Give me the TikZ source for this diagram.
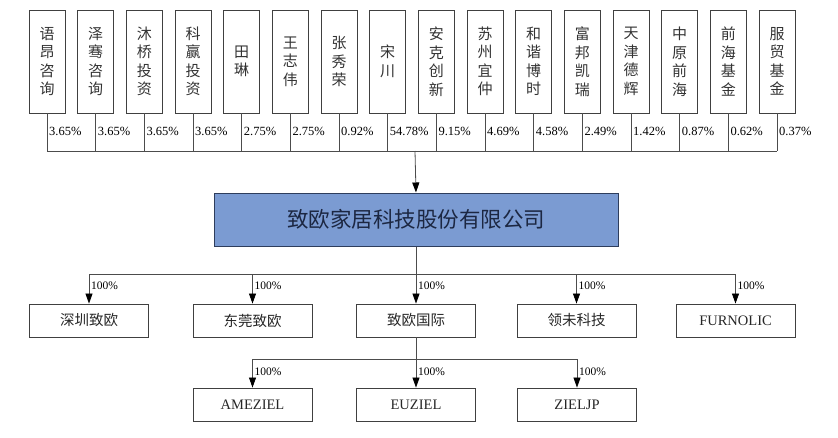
\documentclass[tikz,border=0pt]{standalone}
\usepackage{fontspec}
\setmainfont{Liberation Serif}
\newfontfamily\cjk{Noto Sans CJK SC}
\usetikzlibrary{arrows.meta}

\definecolor{mainblue}{HTML}{7B9BD2}
\definecolor{mainline}{HTML}{2E3D5C}
\definecolor{maintext}{HTML}{1C2742}

\tikzset{
  holder/.style={draw=black!75, line width=0.9pt, minimum width=36pt, minimum height=103pt,
    inner sep=0pt, align=center, text=black!80, font=\cjk\fontsize{15}{18.5}\selectfont},
  share/.style={anchor=west, inner sep=0pt, font=\fontsize{12.5}{12.5}\selectfont},
  firm/.style={draw=black!75, line width=0.9pt, minimum width=119pt, minimum height=33pt,
    inner sep=0pt, text=black!85, font=\fontsize{14.5}{14.5}\selectfont},
  own/.style={anchor=west, inner sep=0pt, font=\fontsize{11.5}{11.5}\selectfont},
  link/.style={draw=black!70, line width=0.8pt},
}

\begin{document}
\begin{tikzpicture}[x=1pt,y=-1pt,>={Triangle[length=10pt,width=7pt,color=black]}]
\useasboundingbox (0,0) rectangle (838,437);

% shareholders
\node[holder] (s1) at (47,61.5) {语\\昂\\咨\\询};
\node[holder] (s2) at (95.7,61.5) {泽\\骞\\咨\\询};
\node[holder] (s3) at (144.3,61.5) {沐\\桥\\投\\资};
\node[holder] (s4) at (193,61.5) {科\\赢\\投\\资};
\node[holder] (s5) at (241.7,61.5) {田\\琳};
\node[holder] (s6) at (290.3,61.5) {王\\志\\伟};
\node[holder] (s7) at (339,61.5) {张\\秀\\荣};
\node[holder] (s8) at (387.7,61.5) {宋\\川};
\node[holder] (s9) at (436.3,61.5) {安\\克\\创\\新};
\node[holder] (s10) at (485,61.5) {苏\\州\\宜\\仲};
\node[holder] (s11) at (533.7,61.5) {和\\谐\\博\\时};
\node[holder] (s12) at (582.3,61.5) {富\\邦\\凯\\瑞};
\node[holder] (s13) at (631,61.5) {天\\津\\德\\辉};
\node[holder] (s14) at (679.7,61.5) {中\\原\\前\\海};
\node[holder] (s15) at (728.3,61.5) {前\\海\\基\\金};
\node[holder] (s16) at (777,61.5) {服\\贸\\基\\金};

% shares
\node[share] (p1) at (49,131) {3.65\%};
\node[share] (p2) at (97.7,131) {3.65\%};
\node[share] (p3) at (146.3,131) {3.65\%};
\node[share] (p4) at (195,131) {3.65\%};
\node[share] (p5) at (243.7,131) {2.75\%};
\node[share] (p6) at (292.3,131) {2.75\%};
\node[share] (p7) at (341,131) {0.92\%};
\node[share] (p8) at (389.7,131) {54.78\%};
\node[share] (p9) at (438.3,131) {9.15\%};
\node[share] (p10) at (487,131) {4.69\%};
\node[share] (p11) at (535.7,131) {4.58\%};
\node[share] (p12) at (584.3,131) {2.49\%};
\node[share] (p13) at (633,131) {1.42\%};
\node[share] (p14) at (681.7,131) {0.87\%};
\node[share] (p15) at (730.3,131) {0.62\%};
\node[share] (p16) at (779,131) {0.37\%};

\coordinate (t) at (415,151);
\draw[link] (s1.south) -- (s1.south |- t) (s2.south) -- (s2.south |- t)
  (s3.south) -- (s3.south |- t) (s4.south) -- (s4.south |- t)
  (s5.south) -- (s5.south |- t) (s6.south) -- (s6.south |- t)
  (s7.south) -- (s7.south |- t) (s8.south) -- (s8.south |- t)
  (s9.south) -- (s9.south |- t) (s10.south) -- (s10.south |- t)
  (s11.south) -- (s11.south |- t) (s12.south) -- (s12.south |- t)
  (s13.south) -- (s13.south |- t) (s14.south) -- (s14.south |- t)
  (s15.south) -- (s15.south |- t) (s16.south) -- (s16.south |- t);
\draw[link] (s1.south |- t) -- (s16.south |- t);

% company
\node[draw=mainline, fill=mainblue, line width=1pt, minimum width=404pt, minimum height=53pt,
  inner sep=0pt, text=maintext, font=\cjk\fontsize{21.5}{21.5}\selectfont] (c) at (416,219.5)
  {致欧家居科技股份有限公司};
\draw[link,->] (t) -- (c.north);

% subsidiaries
\node[firm] (a1) at (89,320.5) {\cjk 深圳致欧};
\node[firm] (a2) at (252.5,320.5) {\cjk 东莞致欧};
\node[firm] (a3) at (416,320.5) {\cjk 致欧国际};
\node[firm] (a4) at (576.5,320.5) {\cjk 领未科技};
\node[firm] (a5) at (735.5,320.5) {FURNOLIC};

\coordinate (m) at (416,274);
\draw[link] (a1.north |- m) -- (a5.north |- m);
\draw[link,->] (c.south) -- (a3.north);
\draw[link,->] (a1.north |- m) -- (a1.north);
\draw[link,->] (a2.north |- m) -- (a2.north);
\draw[link,->] (a4.north |- m) -- (a4.north);
\draw[link,->] (a5.north |- m) -- (a5.north);
\node[own] (q1) at (91,286) {100\%};
\node[own] (q2) at (254.5,286) {100\%};
\node[own] (q3) at (418,286) {100\%};
\node[own] (q4) at (578.5,286) {100\%};
\node[own] (q5) at (737.5,286) {100\%};

\node[firm] (b1) at (252.5,404.5) {AMEZIEL};
\node[firm] (b2) at (416,404.5) {EUZIEL};
\node[firm] (b3) at (577,404.5) {ZIELJP};

\coordinate (n) at (416,359);
\draw[link,->] (a3.south) -- (b2.north);
\draw[link] (b1.north |- n) -- (b3.north |- n);
\draw[link,->] (b1.north |- n) -- (b1.north);
\draw[link,->] (b3.north |- n) -- (b3.north);
\node[own] (r1) at (254.5,372) {100\%};
\node[own] (r2) at (418,372) {100\%};
\node[own] (r3) at (579,372) {100\%};

\end{tikzpicture}
\end{document}
